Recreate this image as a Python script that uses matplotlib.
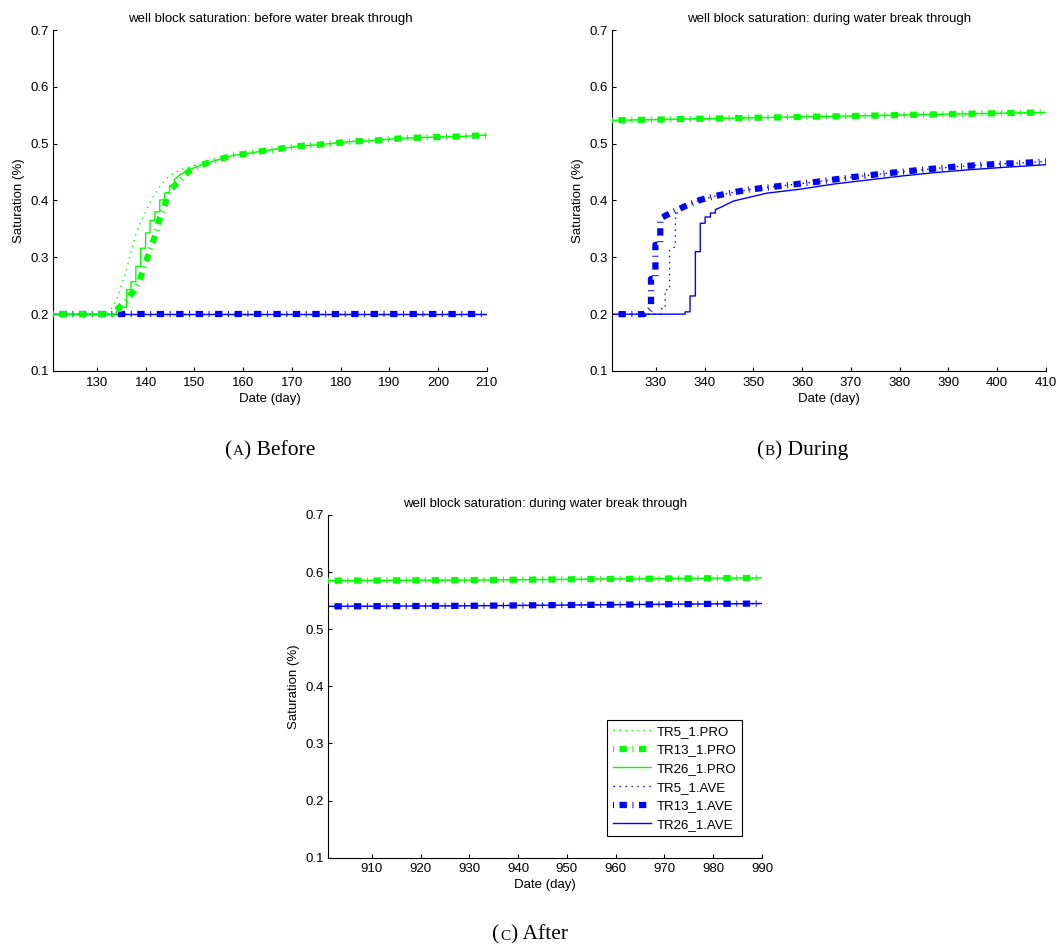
import matplotlib
matplotlib.use("Agg")
import matplotlib.pyplot as plt
from matplotlib.offsetbox import TextArea, HPacker, AnchoredOffsetbox

plt.rcParams['font.family'] = ['Liberation Sans', 'DejaVu Sans']
plt.rcParams['font.size'] = 9.5
plt.rcParams['lines.scale_dashes'] = False

labels = ['TR5_1.PRO', 'TR13_1.PRO', 'TR26_1.PRO', 'TR5_1.AVE', 'TR13_1.AVE', 'TR26_1.AVE']
titles = ['well block saturation: before water break through',
          'well block saturation: during water break through',
          'well block saturation: during water break through']
captions = [('A', ') Before'), ('B', ') During'), ('C', ') After')]
yticks = [0.1, 0.2, 0.3, 0.4, 0.5, 0.6, 0.7]

# --- (a) before break through ---
a_tail_t = [154.6, 157.7, 161.1, 164.6, 168.3, 171.8, 175.2, 178.9, 182.6, 186.3,
            189.9, 193.7, 197.4, 201.4, 205.2, 210.0]
a_tail_s = [0.471, 0.479, 0.483, 0.488, 0.492, 0.496, 0.498, 0.501, 0.504, 0.505,
            0.508, 0.510, 0.511, 0.512, 0.513, 0.515]
a_pro5_t = [121.0, 131.0, 132.0, 133.0, 134.0, 135.0, 136.0, 137.0, 138.0, 139.0, 140.0,
            141.0, 142.0, 143.0, 144.0, 145.0, 146.5, 148.0, 150.0, 152.0]
a_pro5_s = [0.200, 0.200, 0.203, 0.210, 0.225, 0.250, 0.275, 0.310, 0.340, 0.362, 0.380,
            0.398, 0.413, 0.426, 0.436, 0.444, 0.451, 0.457, 0.462, 0.466]
a_pro13_t = [121.0, 133.0, 134.4, 136.0, 137.8, 138.9, 139.9, 140.9, 142.0, 142.8, 143.9,
             144.8, 146.7, 148.8, 151.6]
a_pro13_s = [0.200, 0.200, 0.210, 0.224, 0.243, 0.263, 0.288, 0.313, 0.339, 0.366, 0.391,
             0.416, 0.433, 0.451, 0.463]
a_pro26_t = [121.0, 134.0, 134.0, 135.0, 135.0, 136.1, 136.1, 137.0, 137.0, 138.0, 138.0,
             139.0, 139.0, 140.0, 140.0, 140.9, 140.9, 141.9, 141.9, 142.9, 142.9, 143.9,
             143.9, 144.9, 144.9, 145.9, 145.9, 147.0, 148.5, 150.0, 152.0]
a_pro26_s = [0.200, 0.200, 0.205, 0.205, 0.212, 0.212, 0.243, 0.243, 0.257, 0.257, 0.284,
             0.284, 0.316, 0.316, 0.343, 0.343, 0.365, 0.365, 0.380, 0.380, 0.401, 0.401,
             0.413, 0.413, 0.426, 0.426, 0.437, 0.445, 0.452, 0.458, 0.464]
a_ave_t = [121.0, 150.0, 180.0, 210.0]
a_ave_s = [0.200, 0.200, 0.200, 0.200]

# --- (b) during break through ---
b_pro_t = [321.0, 340.0, 366.0, 390.0, 410.0]
b_pro_s = [0.541, 0.544, 0.548, 0.552, 0.555]
b_tail_t = [336.0, 339.1, 342.2, 345.6, 349.0, 355.9, 363.1, 370.1, 377.5, 384.4,
            392.0, 399.5, 407.0, 410.0]
b_tail_s = [0.390, 0.401, 0.408, 0.414, 0.419, 0.426, 0.433, 0.441, 0.448, 0.454,
            0.460, 0.464, 0.467, 0.469]
b_ave5_t = [321.0, 331.0, 331.2, 331.9, 331.9, 332.8, 332.8, 334.0, 334.0, 335.0]
b_ave5_s = [0.200, 0.200, 0.210, 0.210, 0.243, 0.243, 0.313, 0.319, 0.375, 0.384]
b_ave13_t = [321.0, 327.5, 328.5, 329.0, 329.0, 329.9, 329.9, 330.9, 330.9, 331.2, 333.3]
b_ave13_s = [0.200, 0.200, 0.205, 0.210, 0.262, 0.262, 0.322, 0.322, 0.366, 0.370, 0.379]
b_ave26_t = [321.0, 336.0, 336.0, 337.0, 337.0, 338.1, 338.1, 339.1, 339.1, 340.1, 340.1,
             341.2, 341.2, 342.2, 342.2, 343.3, 345.9, 352.8, 359.7, 366.5, 373.4, 380.3,
             387.1, 394.0, 400.8, 410.0]
b_ave26_s = [0.200, 0.200, 0.204, 0.204, 0.232, 0.232, 0.310, 0.310, 0.360, 0.360, 0.371,
             0.371, 0.378, 0.378, 0.384, 0.388, 0.399, 0.413, 0.420, 0.429, 0.436, 0.443,
             0.449, 0.454, 0.458, 0.463]

# --- (c) after break through ---
c_t = [901.0, 930.0, 960.0, 990.0]
c_pro_s = [0.585, 0.586, 0.588, 0.590]
c_ave_s = [0.540, 0.541, 0.543, 0.545]

GREEN = (0, 1, 0)
BLUE = (0, 0, 1)
STYLES = [dict(ls=(0, (1.0, 3.3)), lw=1.0),
          dict(ls=(9.3, (5.3, 4.0, 0.7, 4.0)), lw=4.5),
          dict(ls='-', lw=1.0)]


def series(ax, pro, ave):
    # blue averages under the green producers
    handles = []
    for (t, s), st in zip(pro, STYLES):
        h, = ax.plot(t, s, color=GREEN, zorder=3, **st)
        handles.append(h)
    for (t, s), st in zip(ave, STYLES):
        h, = ax.plot(t, s, color=BLUE, zorder=2, **st)
        handles.append(h)
    return handles


def style_axes(ax, xlim, xticks, title):
    ax.set_xlim(*xlim)
    ax.set_ylim(0.1, 0.7)
    ax.set_xticks(xticks)
    ax.set_yticks(yticks)
    ax.set_yticklabels(['%.1f' % v for v in yticks])
    ax.spines['top'].set_visible(False)
    ax.spines['right'].set_visible(False)
    for sp in ('left', 'bottom'):
        ax.spines[sp].set_linewidth(0.8)
    ax.tick_params(direction='in', length=3, width=0.8, top=False, right=False)
    ax.tick_params(axis='x', pad=4)
    ax.tick_params(axis='y', pad=3)
    ax.set_xlabel('Date (day)', labelpad=3)
    ax.set_ylabel('Saturation (%)', labelpad=4)
    ax.set_title(title, fontsize=9.5, pad=6)


def caption(fig, x, y, letter, rest):
    serif = ['Liberation Serif', 'DejaVu Serif']
    parts = [TextArea('(', textprops=dict(family=serif, size=15.5)),
             TextArea(letter, textprops=dict(family=serif, size=11)),
             TextArea(rest, textprops=dict(family=serif, size=15.5))]
    box = HPacker(children=parts, align='baseline', pad=0, sep=0.5)
    anc = AnchoredOffsetbox(loc='center', child=box, pad=0, borderpad=0, frameon=False,
                            bbox_to_anchor=(x, y), bbox_transform=fig.transFigure)
    fig.add_artist(anc)


fig = plt.figure(figsize=(10.59, 9.5), dpi=100)
ax1 = fig.add_axes([0.050, 0.6095, 0.4098, 0.3589])
ax2 = fig.add_axes([0.5779, 0.6095, 0.4098, 0.3589])
ax3 = fig.add_axes([0.3097, 0.0972, 0.4098, 0.3607])

a_tail = lambda t, s: (t + a_tail_t, s + a_tail_s)
series(ax1,
       [a_tail(a_pro5_t, a_pro5_s), a_tail(a_pro13_t, a_pro13_s), a_tail(a_pro26_t, a_pro26_s)],
       [(a_ave_t, a_ave_s)] * 3)
style_axes(ax1, (121, 210), range(130, 211, 10), titles[0])

b_tail = lambda t, s: (t + b_tail_t, s + b_tail_s)
series(ax2,
       [(b_pro_t, b_pro_s)] * 3,
       [b_tail(b_ave5_t, b_ave5_s), b_tail(b_ave13_t, b_ave13_s), (b_ave26_t, b_ave26_s)])
style_axes(ax2, (321, 410), range(330, 411, 10), titles[1])

handles = series(ax3, [(c_t, c_pro_s)] * 3, [(c_t, c_ave_s)] * 3)
style_axes(ax3, (901, 990), range(910, 991, 10), titles[2])

leg = ax3.legend(handles, labels, loc='lower right', bbox_to_anchor=(0.954, 0.063),
                 borderaxespad=0, fontsize=9.5, handlelength=2.9, handletextpad=0.45,
                 labelspacing=0.48, borderpad=0.4, fancybox=False, framealpha=1)
leg.get_frame().set_edgecolor('black')
leg.get_frame().set_linewidth(0.8)

caption(fig, 0.255, 0.526, *captions[0])
caption(fig, 0.758, 0.526, *captions[1])
caption(fig, 0.5005, 0.0158, *captions[2])

fig.savefig('out.png', dpi=100)
